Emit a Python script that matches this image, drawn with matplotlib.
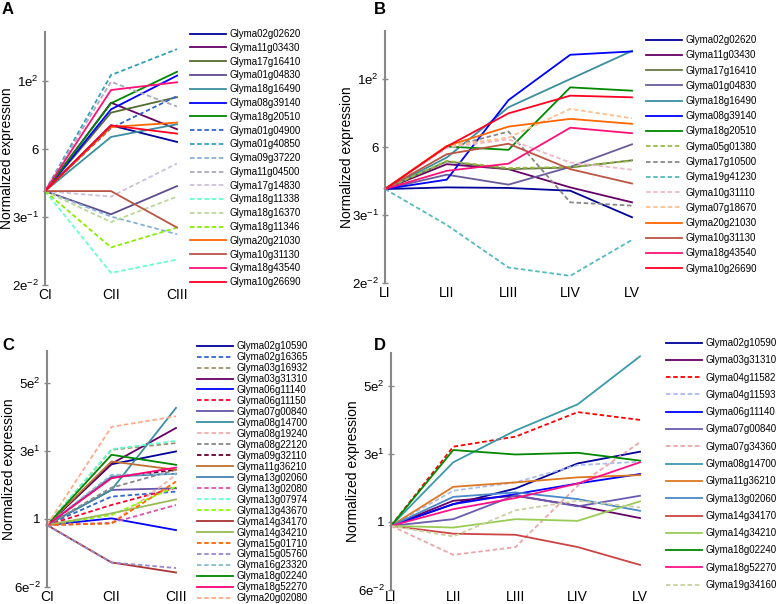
import numpy as np
import matplotlib
matplotlib.use('Agg')
import matplotlib.pyplot as plt

plt.rcParams['font.family'] = 'Liberation Sans'
plt.rcParams['mathtext.fontset'] = 'custom'
plt.rcParams['mathtext.rm'] = 'Liberation Sans'
plt.rcParams['mathtext.it'] = 'Liberation Sans'

W, H = 777, 604

# ---- panel A : log10 normalized expression at CI, CII, CIII
a_stages = ['CI', 'CII', 'CIII']
a_genes = ['Glyma02g02620', 'Glyma11g03430', 'Glyma17g16410', 'Glyma01g04830',
           'Glyma18g16490', 'Glyma08g39140', 'Glyma18g20510', 'Glyma01g04900',
           'Glyma01g40850', 'Glyma09g37220', 'Glyma11g04500', 'Glyma17g14830',
           'Glyma18g11338', 'Glyma18g16370', 'Glyma18g11346', 'Glyma20g21030',
           'Glyma10g31130', 'Glyma18g43540', 'Glyma10g26690']
a_colors = ['#000099', '#660066', '#556b2f', '#5e4b8b', '#3a8ea0', '#0000ff',
            '#008800', '#3366cc', '#33a0b8', '#88b0d8', '#aaaabb', '#ccc0dd',
            '#66ffcc', '#bbd899', '#88ee00', '#ff6600', '#bb5544', '#ff1177',
            '#ff0022']
a_dashed = [0, 0, 0, 0, 0, 0, 0, 1, 1, 1, 1, 1, 1, 1, 1, 0, 0, 0, 0]
a_values = [[0, 1.19, 0.89], [0, 1.60, 1.12], [0, 1.42, 1.70], [0, -0.42, 0.09],
            [0, 0.98, 1.21], [0, 1.48, 2.09], [0, 1.59, 2.16], [0, 1.14, 1.72],
            [0, 2.10, 2.57], [0, -0.46, -0.78], [0, 1.98, 1.53], [0, -0.10, 0.50],
            [0, -1.48, -1.24], [0, -0.56, -0.10], [0, -1.02, -0.66], [0, 1.16, 1.24],
            [0, 0.00, -0.66], [0, 1.83, 1.97], [0, 1.19, 1.04]]

# ---- panel B : LI .. LV
b_stages = ['LI', 'LII', 'LIII', 'LIV', 'LV']
b_genes = ['Glyma02g02620', 'Glyma11g03430', 'Glyma17g16410', 'Glyma01g04830',
           'Glyma18g16490', 'Glyma08g39140', 'Glyma18g20510', 'Glyma05g01380',
           'Glyma17g10500', 'Glyma19g41230', 'Glyma10g31110', 'Glyma07g18670',
           'Glyma20g21030', 'Glyma10g31130', 'Glyma18g43540', 'Glyma10g26690']
b_colors = ['#000099', '#660066', '#667744', '#6a5a9a', '#3a8ea0', '#0000ff',
            '#008800', '#99bb44', '#888888', '#55bbbb', '#eeb8c8', '#ffc090',
            '#ff6600', '#bb5544', '#ff1177', '#ff0022']
b_dashed = [0, 0, 0, 0, 0, 0, 0, 1, 1, 1, 1, 1, 0, 0, 0, 0]
b_values = [[0, 0.03, 0.02, -0.03, -0.51], [0, 0.45, 0.36, 0.03, -0.24],
            [0, 0.50, 0.36, 0.39, 0.52], [0, 0.26, 0.08, 0.40, 0.81],
            [0, 0.57, 1.48, 1.99, 2.50], [0, 0.17, 1.61, 2.43, 2.49],
            [0, 0.77, 0.71, 1.84, 1.78], [0, 0.51, 0.38, 0.40, 0.51],
            [0, 0.75, 1.04, -0.24, -0.30], [0, -0.65, -1.42, -1.57, -0.92],
            [0, 0.75, 0.90, 0.48, 0.35], [0, 0.78, 0.93, 1.45, 1.28],
            [0, 0.78, 1.13, 1.27, 1.18], [0, 0.63, 0.82, 0.36, 0.10],
            [0, 0.33, 0.46, 1.11, 1.01], [0, 0.77, 1.37, 1.69, 1.66]]

# ---- panel C : CI, CII, CIII
c_stages = ['CI', 'CII', 'CIII']
c_genes = ['Glyma02g10590', 'Glyma02g16365', 'Glyma03g16932', 'Glyma03g31310',
           'Glyma06g11140', 'Glyma06g11150', 'Glyma07g00840', 'Glyma08g14700',
           'Glyma08g19240', 'Glyma08g22120', 'Glyma09g32110', 'Glyma11g36210',
           'Glyma13g02060', 'Glyma13g02080', 'Glyma13g07974', 'Glyma13g43670',
           'Glyma14g34170', 'Glyma14g34210', 'Glyma15g01710', 'Glyma15g05760',
           'Glyma16g23320', 'Glyma18g02240', 'Glyma18g52270', 'Glyma20g02080']
c_colors = ['#000099', '#3366cc', '#a09070', '#660066', '#0000ff', '#ff0033',
            '#6655aa', '#3a8fa0', '#f0b0b0', '#888888', '#660033', '#c07030',
            '#4682b4', '#dd55aa', '#66ffcc', '#88ff00', '#aa3333', '#99bb55',
            '#ff6600', '#9988cc', '#88bbcc', '#008800', '#ff0077', '#ffaa88']
c_dashed = [0, 1, 1, 0, 0, 1, 0, 0, 1, 1, 1, 0, 0, 1, 1, 1, 0, 0, 1, 1, 1, 0, 0, 1]
c_values = [[-0.11, 0.98, 1.21], [-0.11, 0.40, 0.49], [-0.11, 1.24, 1.36],
            [-0.11, 0.99, 1.63], [-0.11, 0.01, -0.20], [-0.11, 0.25, 0.56],
            [-0.11, 0.52, 0.55], [-0.11, 0.52, 1.99], [-0.11, -0.08, 0.79],
            [-0.11, 0.56, 0.88], [-0.11, 0.74, 0.88], [-0.11, 1.03, 0.88],
            [-0.11, 0.76, 0.81], [-0.11, -0.07, 0.25], [-0.11, 1.25, 1.40],
            [-0.11, 0.07, 0.58], [-0.11, -0.78, -0.96], [-0.11, 0.10, 0.35],
            [-0.11, -0.08, 0.67], [-0.11, -0.78, -0.88], [-0.11, 0.79, 0.81],
            [-0.11, 1.15, 0.97], [-0.11, 0.73, 0.92], [-0.11, 1.65, 1.84]]

# ---- panel D : LI .. LV
d_stages = ['LI', 'LII', 'LIII', 'LIV', 'LV']
d_genes = ['Glyma02g10590', 'Glyma03g31310', 'Glyma04g11582', 'Glyma04g11593',
           'Glyma06g11140', 'Glyma07g00840', 'Glyma07g34360', 'Glyma08g14700',
           'Glyma11g36210', 'Glyma13g02060', 'Glyma14g34170', 'Glyma14g34210',
           'Glyma18g02240', 'Glyma18g52270', 'Glyma19g34160']
d_colors = ['#000099', '#660066', '#ff0000', '#aabbee', '#0000ff', '#6a5ab0',
            '#e8a8a8', '#3a9aaa', '#dd7722', '#4a88c8', '#cc4444', '#99cc55',
            '#008800', '#ff1188', '#ccd0a0']
d_dashed = [0, 0, 1, 1, 0, 0, 1, 0, 0, 0, 0, 0, 0, 0, 1]
d_values = [[-0.07, 0.32, 0.60, 1.05, 1.26], [-0.07, 0.38, 0.47, 0.29, 0.07],
            [-0.07, 1.35, 1.53, 1.97, 1.83], [-0.07, 0.56, 0.71, 1.02, 1.08],
            [-0.07, 0.32, 0.50, 0.69, 0.86], [-0.07, 0.05, 0.48, 0.28, 0.47],
            [-0.07, -0.59, -0.45, 0.65, 1.43], [-0.07, 1.07, 1.64, 2.11, 2.97],
            [-0.07, 0.63, 0.71, 0.80, 0.84], [-0.07, 0.45, 0.53, 0.41, 0.20],
            [-0.07, -0.21, -0.23, -0.45, -0.77], [-0.07, -0.10, 0.05, 0.02, 0.37],
            [-0.07, 1.29, 1.21, 1.24, 1.10], [-0.07, 0.23, 0.43, 0.69, 1.07],
            [-0.07, -0.26, 0.21, 0.38, 0.26]]

ab_ticks = [-1.70, -0.47, 0.76, 1.99]
ab_ticklabels = [r'2e$^{-2}$', r'3e$^{-1}$', '6', r'1e$^{2}$']
cd_ticks = [-1.22, 0.0, 1.22, 2.44]
cd_ticklabels = [r'6e$^{-2}$', '1', r'3e$^{1}$', r'5e$^{2}$']

fig = plt.figure(figsize=(W / 100, H / 100), dpi=100)


def px_axes(left, top, right, bottom):
    return fig.add_axes([left / W, 1 - bottom / H, (right - left) / W, (bottom - top) / H])


panels = [
    ('A', (45, 32, 177, 285), (2, 10), 2.5, a_stages, a_genes, a_colors, a_dashed,
     a_values, ab_ticks, ab_ticklabels, 2.88, (190, 29), 0.39),
    ('B', (385, 31, 632, 283), (374, 10), 2.5, b_stages, b_genes, b_colors, b_dashed,
     b_values, ab_ticks, ab_ticklabels, 2.86, (646, 35), 0.54),
    ('C', (47, 351, 176, 587), (2, 345), 2.0, c_stages, c_genes, c_colors, c_dashed,
     c_values, cd_ticks, cd_ticklabels, 3.01, (197, 341), 0.1),
    ('D', (391, 353, 640, 590), (374, 345), 0.0, d_stages, d_genes, d_colors, d_dashed,
     d_values, cd_ticks, cd_ticklabels, 3.03, (666, 338), 0.75),
]

for (letter, box, letter_xy, xpad, stages, genes, colors, dashed, values,
     ticks, ticklabels, ytop, leg_xy, leg_sp) in panels:
    ax = px_axes(*box)
    x = np.arange(len(stages))
    handles = []
    for name, col, dsh, vals in zip(genes, colors, dashed, values):
        ls = (0, (2.5, 1.5)) if dsh else '-'
        h, = ax.plot(x, 10 ** np.array(vals), color=col, lw=1.3, ls=ls,
                     label=name, clip_on=False)
        handles.append(h)
    ax.set_yscale('log')
    ax.set_ylim(10 ** ticks[0], 10 ** ytop)
    ax.set_xlim(0, len(stages) - 1)
    ax.set_yticks([10 ** t for t in ticks])
    ax.set_yticklabels(ticklabels, fontsize=9.5)
    ax.yaxis.set_minor_locator(matplotlib.ticker.NullLocator())
    ax.set_xticks(x)
    ax.set_xticklabels(stages, fontsize=10)
    ax.tick_params(axis='x', length=0, pad=xpad)
    ax.tick_params(axis='y', direction='inout', length=5, width=1, color='#888888', pad=2)
    for s in ['top', 'right', 'bottom']:
        ax.spines[s].set_visible(False)
    ax.spines['left'].set_color('#888888')
    ax.spines['left'].set_linewidth(1.5)
    ax.set_ylabel('Normalized expression', fontsize=10, va='center')
    ax.yaxis.set_label_coords(-38 / (box[2] - box[0]), 0.5)
    ax.patch.set_visible(False)

    fig.text(letter_xy[0] / W, 1 - letter_xy[1] / H, letter, fontsize=12,
             fontweight='bold', ha='left', va='center')

    fig.legend(handles=handles, loc='upper left',
               bbox_to_anchor=(leg_xy[0] / W, 1 - leg_xy[1] / H),
               frameon=False, fontsize=7, handlelength=3.7,
               handletextpad=0.4, labelspacing=leg_sp, borderpad=0,
               borderaxespad=0)

fig.savefig('out.png', dpi=100)
